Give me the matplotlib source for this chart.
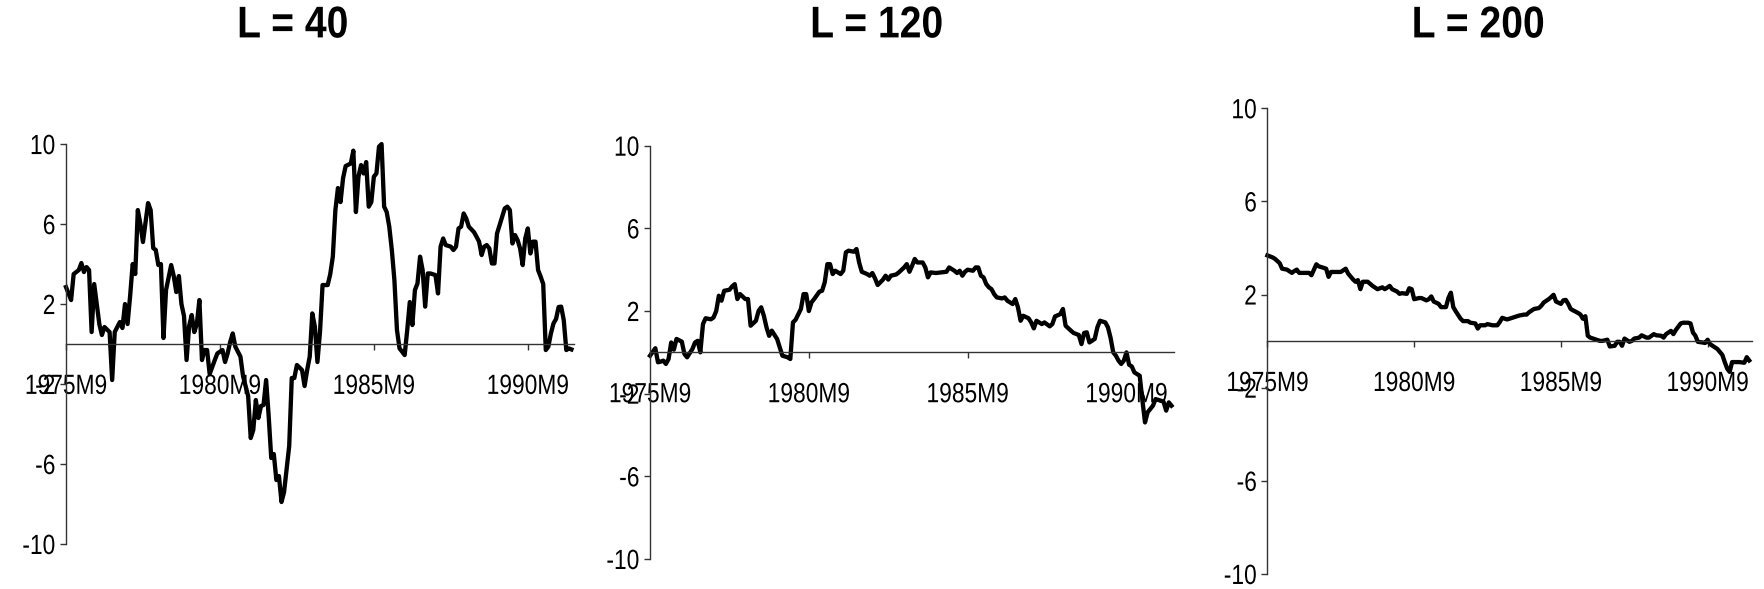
import matplotlib
matplotlib.use("Agg")
import matplotlib.pyplot as plt
from matplotlib.patheffects import AbstractPathEffect
from matplotlib.transforms import Affine2D

# months counted from 1975M9
l40 = [(0, 2.85), (2, 2.2), (3, 3.5), (5, 3.7), (6, 4.05), (7, 3.6), (8, 3.85), (9, 3.7), (10, 0.6), (11, 3.0),
       (12, 2.0), (13, 1.0), (14, 0.45), (15, 0.85), (17, 0.6), (18, -1.8), (19, 0.6), (21, 1.1), (22, 0.8), (23, 2.0),
       (24, 1.0), (25, 2.4), (26, 4.0), (27, 3.5), (28, 6.7), (29, 6.0), (30, 5.1), (32, 7.05), (33, 6.7), (34, 4.8),
       (35, 4.7), (36, 3.95), (37, 4.0), (38, 0.3), (39, 2.7), (41, 3.95), (42, 3.4), (43, 2.6), (44, 3.4), (45, 2.0),
       (46, 1.4), (47, -0.8), (48, 0.9), (49, 1.45), (50, 0.6), (51, 1.0), (52, 2.2), (53, -0.8), (54, -0.3), (55, -0.3),
       (56, -1.5), (58, -0.8), (59, -0.47), (61, -0.3), (62, -0.9), (63, -0.47), (64, 0.1), (65, 0.53), (66, -0.13), (68, -0.63),
       (69, -1.6), (71, -2.6), (72, -4.7), (73, -4.3), (74, -2.8), (75, -3.7), (76, -3.1), (77, -3.05), (78, -1.8), (79, -3.6),
       (80, -5.7), (81, -5.5), (82, -6.8), (83, -6.6), (84, -7.9), (85, -7.4), (87, -5.1), (88, -1.7), (89, -1.7), (90, -1.05),
       (92, -1.3), (93, -2.1), (94, -1.3), (95, -0.63), (96, 1.53), (97, 0.87), (98, -0.9), (99, 0.6), (100, 2.95), (102, 2.95),
       (103, 3.5), (104, 4.37), (105, 6.7), (106, 7.8), (107, 7.1), (108, 8.3), (109, 8.9), (111, 9.03), (112, 9.67), (113, 6.6),
       (114, 8.37), (115, 8.95), (116, 8.53), (117, 9.1), (118, 6.87), (119, 7.1), (120, 8.37), (121, 8.53), (122, 9.87), (123, 10.0),
       (124, 6.87), (125, 6.6), (126, 5.87), (127, 4.7), (128, 3.2), (129, 0.7), (130, -0.22), (131, -0.38), (132, -0.55), (133, 0.7),
       (134, 2.1), (135, 0.95), (136, 2.7), (137, 3.03), (138, 4.37), (139, 3.7), (140, 1.87), (141, 3.53), (142, 3.53), (144, 3.45),
       (145, 2.53), (146, 4.87), (147, 5.28), (148, 4.95), (150, 4.87), (151, 4.7), (152, 4.87), (153, 5.78), (154, 5.87), (155, 6.53),
       (156, 6.28), (157, 5.87), (159, 5.6), (160, 5.37), (161, 5.12), (162, 4.45), (163, 4.87), (164, 4.95), (165, 4.78), (166, 4.03),
       (167, 4.03), (168, 5.53), (170, 6.37), (171, 6.78), (172, 6.87), (173, 6.7), (174, 5.03), (175, 5.45), (176, 5.2), (177, 4.78),
       (178, 3.95), (179, 5.28), (180, 5.78), (181, 4.53), (182, 5.12), (183, 5.12), (184, 3.7), (185, 3.37), (186, 3.0), (187, -0.3),
       (188, -0.13), (189, 0.53), (190, 1.03), (191, 1.25), (192, 1.85), (193, 1.87), (194, 1.2), (195, -0.3), (196, -0.22), (197, -0.27)]

l120 = [(0, -0.16), (2, 0.2), (3, -0.48), (4, -0.45), (5, -0.4), (6, -0.56), (7, -0.32), (8, 0.48), (9, 0.13), (10, 0.65),
        (12, 0.52), (13, -0.08), (14, -0.24), (16, 0.16), (17, 0.48), (18, 0.56), (19, 0.0), (20, 1.37), (21, 1.65), (23, 1.6),
        (24, 1.69), (25, 2.0), (26, 2.74), (27, 2.5), (28, 2.98), (30, 3.03), (31, 3.19), (32, 3.3), (33, 2.58), (34, 2.82),
        (36, 2.58), (37, 2.58), (38, 1.29), (40, 1.53), (41, 2.0), (42, 2.18), (43, 1.77), (44, 1.21), (45, 0.8), (46, 1.05),
        (48, 0.65), (49, 0.24), (50, -0.16), (52, -0.24), (53, -0.32), (54, 1.45), (55, 1.58), (57, 2.1), (58, 2.82), (59, 2.82),
        (60, 2.0), (61, 2.42), (62, 2.58), (64, 2.94), (65, 2.98), (66, 3.39), (67, 4.27), (68, 4.27), (69, 3.79), (70, 3.95),
        (72, 3.79), (73, 3.95), (74, 4.84), (75, 4.92), (77, 4.87), (78, 5.0), (79, 4.35), (80, 3.9), (82, 3.79), (83, 3.71),
        (84, 3.84), (85, 3.58), (86, 3.26), (88, 3.52), (89, 3.71), (90, 3.52), (91, 3.71), (93, 3.77), (94, 3.87), (96, 4.11),
        (97, 4.27), (98, 3.9), (99, 4.19), (100, 4.52), (101, 4.35), (103, 4.35), (104, 4.11), (105, 3.63), (106, 3.87), (108, 3.84),
        (110, 3.87), (112, 3.9), (113, 4.11), (115, 3.95), (116, 3.84), (117, 3.95), (118, 3.71), (119, 3.9), (120, 4.0), (122, 3.95),
        (123, 4.11), (124, 4.11), (125, 3.71), (126, 3.63), (127, 3.31), (128, 3.15), (129, 3.06), (130, 2.82), (131, 2.66), (133, 2.61),
        (134, 2.66), (135, 2.5), (137, 2.34), (138, 2.58), (139, 2.18), (140, 1.53), (141, 1.77), (143, 1.65), (144, 1.45), (145, 1.16),
        (146, 1.53), (148, 1.37), (149, 1.45), (151, 1.26), (152, 1.37), (153, 1.74), (155, 1.85), (156, 2.1), (157, 1.29), (159, 1.05),
        (160, 0.94), (162, 0.84), (163, 0.4), (164, 0.94), (165, 0.97), (166, 0.48), (168, 0.65), (169, 1.21), (170, 1.53), (172, 1.45),
        (173, 1.21), (174, 0.7), (175, 0.0), (176, -0.16), (177, -0.4), (178, -0.56), (179, -0.4), (180, 0.0), (181, -0.6), (182, -0.68),
        (183, -0.97), (185, -1.13), (186, -2.3), (187, -3.39), (188, -2.9), (190, -2.58), (191, -2.26), (193, -2.34), (194, -2.39), (195, -2.82),
        (196, -2.42), (197, -2.58)]

l200 = [(0, 3.68), (2, 3.6), (3, 3.54), (5, 3.35), (6, 3.11), (8, 3.07), (10, 2.93), (11, 3.01), (12, 3.07), (13, 2.93),
        (16, 2.93), (17, 2.93), (18, 2.83), (20, 3.3), (21, 3.21), (22, 3.18), (24, 3.11), (25, 2.76), (26, 2.97), (28, 2.97),
        (30, 2.97), (32, 3.11), (33, 2.9), (35, 2.65), (36, 2.55), (37, 2.62), (38, 2.23), (39, 2.55), (41, 2.55), (43, 2.37),
        (45, 2.23), (46, 2.27), (47, 2.31), (48, 2.23), (50, 2.37), (51, 2.23), (53, 2.13), (54, 2.03), (55, 2.06), (57, 2.03),
        (58, 2.27), (59, 2.23), (60, 1.8), (62, 1.85), (63, 1.85), (65, 1.75), (66, 1.8), (67, 1.92), (68, 1.7), (70, 1.6),
        (71, 1.46), (73, 1.46), (74, 1.85), (75, 2.08), (76, 1.46), (77, 1.28), (79, 0.96), (80, 0.86), (82, 0.86), (83, 0.79),
        (85, 0.76), (86, 0.54), (87, 0.68), (89, 0.68), (90, 0.73), (92, 0.68), (94, 0.68), (95, 0.82), (96, 1.0), (98, 0.93),
        (100, 1.0), (102, 1.07), (103, 1.1), (105, 1.14), (106, 1.14), (107, 1.24), (109, 1.38), (111, 1.42), (112, 1.52), (113, 1.66),
        (115, 1.8), (116, 1.89), (117, 1.99), (118, 1.7), (120, 1.6), (121, 1.75), (122, 1.77), (123, 1.6), (124, 1.38), (125, 1.32),
        (127, 1.21), (128, 1.14), (129, 0.96), (130, 1.07), (131, 0.23), (132, 0.15), (134, 0.08), (136, 0.01), (137, 0.01), (139, 0.06),
        (140, -0.23), (142, -0.2), (143, -0.03), (144, -0.03), (145, -0.2), (146, 0.11), (148, -0.03), (149, 0.01), (150, 0.11), (152, 0.15),
        (153, 0.25), (155, 0.15), (156, 0.15), (158, 0.3), (159, 0.25), (161, 0.23), (162, 0.15), (163, 0.3), (165, 0.44), (166, 0.3),
        (167, 0.48), (169, 0.76), (170, 0.79), (172, 0.79), (173, 0.76), (174, 0.37), (175, 0.23), (176, -0.03), (178, -0.06), (179, -0.08),
        (180, 0.06), (181, -0.13), (182, -0.2), (183, -0.27), (184, -0.34), (186, -0.59), (187, -0.9), (188, -1.18), (189, -1.32), (190, -0.9),
        (191, -0.9), (193, -0.9), (195, -0.93), (196, -0.69), (197, -0.83)]

titles = ["L = 40", "L = 120", "L = 200"]
tick_months = [0, 60, 120, 180]
tick_labels = ["1975M9", "1980M9", "1985M9", "1990M9"]
y_ticks = [-10, -6, -2, 2, 6, 10]
last_month = 198


class Estrecho(AbstractPathEffect):
    """Squeezes text horizontally (the original uses a condensed Arial)."""

    def __init__(self, factor, ancla="center"):
        super().__init__()
        self.factor = factor
        self.ancla = ancla

    def draw_path(self, renderer, gc, tpath, affine, rgbFace=None):
        ext = tpath.get_extents(affine)
        if self.ancla == "right":
            cx = ext.x1
        else:
            cx = (ext.x0 + ext.x1) / 2
        squeeze = Affine2D().translate(-cx, 0).scale(self.factor, 1).translate(cx, 0)
        renderer.draw_path(gc, tpath, affine + squeeze, rgbFace)


plt.rcParams['font.family'] = ['Liberation Sans', 'DejaVu Sans']

fig = plt.figure(figsize=(17.64, 5.89), dpi=100)

# panel boxes in figure fractions (left, bottom, width, height)
boxes = [(0.0374, 0.0764, 0.288, 0.679),
         (0.3685, 0.0509, 0.2971, 0.7017),
         (0.7185, 0.0255, 0.2745, 0.7907)]
title_x = [0.166, 0.497, 0.838]

ejes = []
for serie, box, titulo, tx in zip([l40, l120, l200], boxes, titles, title_x):
    ax = fig.add_axes(box)
    meses = [p[0] for p in serie]
    valores = [p[1] for p in serie]
    ax.plot(meses, valores, color="black", linewidth=3.1, solid_joinstyle="round", clip_on=False)

    ax.set_xlim(0, last_month)
    ax.set_ylim(-10, 10)
    ax.set_yticks(y_ticks)
    ax.set_yticklabels([str(v) for v in y_ticks])
    ax.set_xticks(tick_months)
    ax.set_xticklabels(tick_labels)

    ax.spines["top"].set_visible(False)
    ax.spines["right"].set_visible(False)
    ax.spines["bottom"].set_position(("data", 0))
    for s in ("left", "bottom"):
        ax.spines[s].set_color("#333333")
        ax.spines[s].set_linewidth(1.0)

    ax.tick_params(axis="y", direction="out", length=4.5, width=1, color="#333333", pad=3, labelsize=20)
    ax.tick_params(axis="x", direction="out", length=4.5, width=1, color="#333333", pad=17, labelsize=20)
    ax.patch.set_alpha(0)

    fig.text(tx, 0.956, titulo, ha="center", va="center", fontsize=32, fontweight="bold",
             path_effects=[Estrecho(0.88)])
    ejes.append(ax)

fig.canvas.draw()
for ax in ejes:
    for t in ax.xaxis.get_major_ticks():
        t.label1.set_path_effects([Estrecho(0.82)])
    for t in ax.yaxis.get_major_ticks():
        t.label1.set_path_effects([Estrecho(0.82, "right")])

fig.savefig("out.png", dpi=100)
